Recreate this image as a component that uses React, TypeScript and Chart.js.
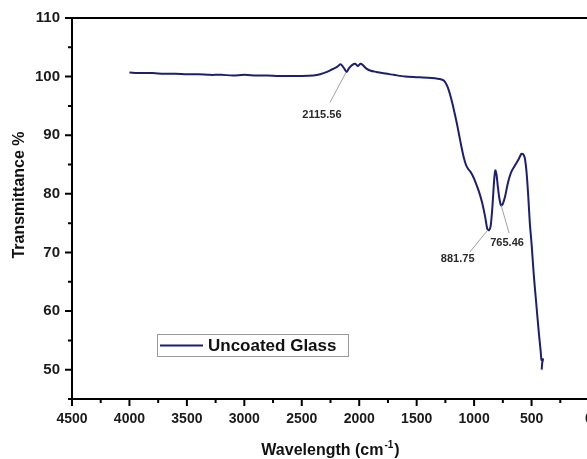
import React, { useEffect, useRef } from "react";
import { Chart, registerables } from "chart.js";

Chart.register(...registerables);

// ---- data ----
const seriesLabel = "Uncoated Glass";
const wavenumbers = [
  4000, 3900, 3800, 3700, 3600, 3500, 3400, 3300, 3200, 3100, 3000, 2900, 2800, 2700, 2600, 2500,
  2400, 2340, 2280, 2230, 2190, 2165, 2145, 2125, 2110, 2090, 2060, 2035, 2012, 1990, 1970, 1940,
  1900, 1850, 1800, 1700, 1600, 1500, 1400, 1300, 1270, 1250, 1230, 1210, 1190, 1170, 1150, 1130,
  1110, 1090, 1070, 1050, 1030, 1010, 990, 960, 930, 905, 885, 870, 856, 840, 825, 815, 805, 795,
  780, 765, 750, 730, 710, 690, 670, 640, 610, 590, 575, 560, 545, 530, 515, 500, 480, 460, 440,
  420, 413, 400, 407, 412,
];
const transmittance = [
  100.7, 100.6, 100.6, 100.5, 100.5, 100.4, 100.4, 100.3, 100.3, 100.2, 100.3, 100.2, 100.2, 100.1, 100.1, 100.1,
  100.2, 100.4, 100.8, 101.3, 101.7, 102.1, 101.8, 101.2, 100.8, 101.4, 102.0, 102.2, 101.8, 102.2, 102.0, 101.4,
  101.0, 100.8, 100.6, 100.3, 100.0, 99.9, 99.8, 99.6, 99.4, 99.0, 98.2, 97.0, 95.5, 93.8, 92.0, 90.0,
  88.0, 86.2, 84.9, 84.2, 83.7, 83.0, 82.1, 80.5, 78.5, 76.2, 74.0, 73.8, 74.5, 78.0, 82.5, 84.0, 83.3, 81.5,
  79.2, 78.0, 78.3, 79.6, 81.5, 83.0, 84.0, 85.0, 86.0, 86.8, 86.8, 86.2, 84.0, 80.0, 75.0, 71.5, 66.0, 61.5, 57.0,
  53.0, 51.6, 51.8, 51.2, 50.0,
];
const xTicks = [4500, 4000, 3500, 3000, 2500, 2000, 1500, 1000, 500, 0];
const yTicks = [50, 60, 70, 80, 90, 100, 110];
const peakLabels = ["2115.56", "881.75", "765.46"];
const peakX = [2115.56, 881.75, 765.46];
const peakY = [100.7, 73.8, 78.1];

// ---- styles ----
const FONT = '"Liberation Sans", Arial, sans-serif';
const LINE_COLOR = "#1c1f6e";
// leader end and label center offsets (px) from each peak anchor
const peakOffsets = [
  { ex: -16, ey: 30, lx: -24, ly: 42 },
  { ex: -18, ey: 22, lx: -30, ly: 29 },
  { ex: 8, ey: 28, lx: 6, ly: 38 },
];

const decor = {
  id: "decor",
  afterDraw(chart: any) {
    const { ctx, chartArea: a, scales } = chart;
    const x = scales.x;
    const y = scales.y;
    ctx.save();
    // frame
    ctx.strokeStyle = "#000";
    ctx.lineWidth = 2;
    ctx.strokeRect(a.left, a.top, a.right - a.left, a.bottom - a.top);
    // tick marks (major + minor)
    ctx.lineWidth = 2;
    ctx.beginPath();
    for (let i = 0; i < xTicks.length; i++) {
      const px = x.getPixelForValue(xTicks[i]);
      ctx.moveTo(px, a.bottom);
      ctx.lineTo(px, a.bottom + 7);
      if (i < xTicks.length - 1) {
        const mx = x.getPixelForValue((xTicks[i] + xTicks[i + 1]) / 2);
        ctx.moveTo(mx, a.bottom);
        ctx.lineTo(mx, a.bottom + 4);
      }
    }
    for (let i = 0; i < yTicks.length; i++) {
      const py = y.getPixelForValue(yTicks[i]);
      ctx.moveTo(a.left, py);
      ctx.lineTo(a.left - 7, py);
      const my = y.getPixelForValue(yTicks[i] - 5);
      ctx.moveTo(a.left, my);
      ctx.lineTo(a.left - 4, my);
    }
    ctx.stroke();

    // peak annotations
    ctx.font = `bold 11px ${FONT}`;
    ctx.textAlign = "center";
    ctx.textBaseline = "middle";
    for (let i = 0; i < peakLabels.length; i++) {
      const ax = x.getPixelForValue(peakX[i]);
      const ay = y.getPixelForValue(peakY[i]);
      const o = peakOffsets[i];
      ctx.strokeStyle = "#8a8a8a";
      ctx.lineWidth = 0.8;
      ctx.beginPath();
      ctx.moveTo(ax, ay);
      ctx.lineTo(ax + o.ex, ay + o.ey);
      ctx.stroke();
      ctx.fillStyle = "#2a2a2a";
      ctx.fillText(peakLabels[i], ax + o.lx, ay + o.ly);
    }

    // legend
    const lx = a.left + 85;
    const ly = a.top + 316;
    ctx.strokeStyle = "#9a9a9a";
    ctx.lineWidth = 1;
    ctx.strokeRect(lx + 0.5, ly + 0.5, 191, 22);
    ctx.strokeStyle = LINE_COLOR;
    ctx.lineWidth = 2;
    ctx.beginPath();
    ctx.moveTo(lx + 3, ly + 11.5);
    ctx.lineTo(lx + 46, ly + 11.5);
    ctx.stroke();
    ctx.fillStyle = "#111";
    ctx.font = `bold 17px ${FONT}`;
    ctx.textAlign = "left";
    ctx.textBaseline = "middle";
    ctx.fillText(seriesLabel, lx + 51, ly + 12);

    // axis titles
    ctx.fillStyle = "#111";
    ctx.font = `bold 16px ${FONT}`;
    ctx.save();
    ctx.translate(20, 195);
    ctx.rotate(-Math.PI / 2);
    ctx.textAlign = "center";
    ctx.textBaseline = "middle";
    ctx.fillText("Transmittance %", 0, 0);
    ctx.restore();

    const main = "Wavelength (cm";
    const sup = "-1";
    const close = ")";
    ctx.font = `bold 16px ${FONT}`;
    const w1 = ctx.measureText(main).width;
    const w3 = ctx.measureText(close).width;
    ctx.font = `bold 10px ${FONT}`;
    const w2 = ctx.measureText(sup).width;
    const total = w1 + w2 + w3 + 2;
    let tx = (a.left + a.right) / 2 - total / 2;
    const ty = 455;
    ctx.textAlign = "left";
    ctx.textBaseline = "alphabetic";
    ctx.font = `bold 16px ${FONT}`;
    ctx.fillText(main, tx, ty);
    tx += w1 + 1;
    ctx.font = `bold 10px ${FONT}`;
    ctx.fillText(sup, tx, ty - 7);
    tx += w2 + 1;
    ctx.font = `bold 16px ${FONT}`;
    ctx.fillText(close, tx, ty);
    ctx.restore();
  },
};

export default function App() {
  const ref = useRef<HTMLCanvasElement | null>(null);
  useEffect(() => {
    if (!ref.current) return;
    const data = wavenumbers.map((w, i) => ({ x: w, y: transmittance[i] }));
    const chart = new Chart(ref.current, {
      type: "line",
      data: {
        datasets: [
          {
            label: seriesLabel,
            data,
            borderColor: LINE_COLOR,
            borderWidth: 2,
            pointRadius: 0,
            tension: 0.25,
            fill: false,
          },
        ],
      },
      options: {
        animation: false,
        responsive: true,
        maintainAspectRatio: false,
        layout: { padding: { left: 0, top: 18, right: 11, bottom: 0 } },
        plugins: { legend: { display: false }, tooltip: { enabled: false } },
        scales: {
          x: {
            type: "linear",
            min: 0,
            max: 4500,
            reverse: true,
            afterBuildTicks: (s: any) => {
              s.ticks = xTicks.map((v) => ({ value: v }));
            },
            afterFit: (s: any) => {
              s.height = 60;
            },
            grid: { display: false, drawTicks: true, tickLength: 7 },
            border: { display: false },
            ticks: {
              autoSkip: false,
              maxRotation: 0,
              padding: 5,
              color: "#1a1a1a",
              callback: (v: any) => String(v),
              font: { family: FONT, size: 14, weight: "bold" },
            },
          },
          y: {
            type: "linear",
            min: 45,
            max: 110,
            afterBuildTicks: (s: any) => {
              s.ticks = yTicks.map((v) => ({ value: v }));
            },
            afterFit: (s: any) => {
              s.width = 72;
            },
            grid: { display: false, drawTicks: true, tickLength: 7 },
            border: { display: false },
            ticks: {
              padding: 5,
              color: "#1a1a1a",
              callback: (v: any) => String(v),
              font: { family: FONT, size: 15, weight: "bold" },
            },
          },
        },
      },
      plugins: [decor],
    });
    return () => chart.destroy();
  }, []);
  return (
    <div
      style={{
        position: "fixed",
        left: 0,
        top: 0,
        width: 587,
        height: 459,
        overflow: "hidden",
        background: "#fff",
      }}
    >
      <div style={{ position: "relative", width: 600, height: 459 }}>
        <canvas ref={ref} />
      </div>
    </div>
  );
}
